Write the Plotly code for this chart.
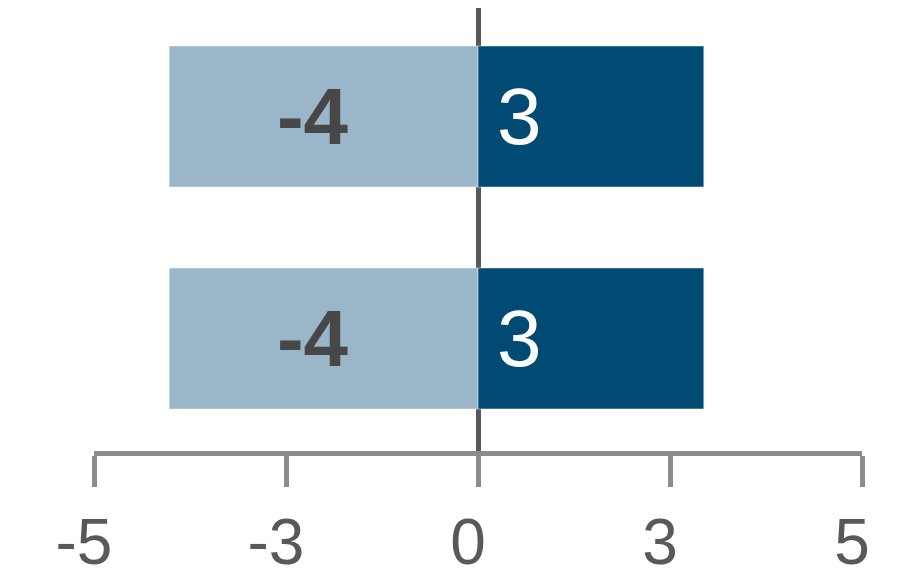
import plotly.graph_objects as go

# two identical rows, hidden category names
rows = ["Row 1", "Row 2"]
negative = [-4.02, -4.02]
positive = [2.94, 2.94]
tick_vals = [-5, -2.5, 0, 2.5, 5]
tick_text = ["-5", "-3", "0", "3", "5"]

LIGHT = "#9AB6C8"
DARK = "#004A73"
FONT = "Arial, Liberation Sans, sans-serif"

fig = go.Figure()

fig.add_trace(go.Bar(
    y=rows, x=negative, orientation="h", marker_color=LIGHT, width=0.635,
    texttemplate="<b>%{x:.0f}</b>\u00a0", textposition="inside",
    insidetextanchor="middle",
    textfont=dict(family=FONT, size=80, color="#474747"),
    showlegend=False,
))
fig.add_trace(go.Bar(
    y=rows, x=positive, orientation="h", marker_color=DARK, width=0.635,
    texttemplate="\u2009%{x:.0f}", textposition="inside",
    insidetextanchor="start",
    textfont=dict(family=FONT, size=80, color="white"),
    showlegend=False,
))

fig.update_layout(
    width=918, height=576,
    margin=dict(l=86, r=64, t=0, b=133),
    barmode="relative",
    plot_bgcolor="white", paper_bgcolor="white",
)
fig.update_xaxes(
    range=[-5, 5], tickvals=tick_vals, ticktext=tick_text,
    automargin=False,
    showgrid=False, showline=True, linecolor="#8C8C8C", linewidth=4.5,
    ticks="outside", ticklen=31, tickwidth=4.5, tickcolor="#8C8C8C",
    ticklabelshift=-10,
    tickfont=dict(family=FONT, size=64, color="#595959"),
    zeroline=True, zerolinecolor="#595959", zerolinewidth=4.5,
)
fig.update_yaxes(
    range=[-0.507, 1.489], showticklabels=False, showgrid=False,
    automargin=False, showline=False, zeroline=False, ticks="",
)

fig.write_html("out.html")
